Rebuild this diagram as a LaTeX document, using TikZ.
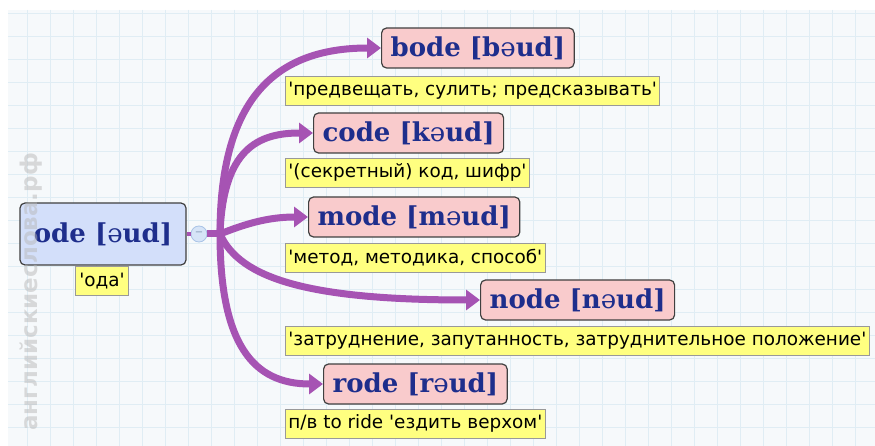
\documentclass[tikz,border=0pt]{standalone}
\usepackage{fontspec}
\setmainfont{DejaVu Sans}
\newfontfamily\wordfont{DejaVu Serif}
\usetikzlibrary{arrows.meta}

\definecolor{linkviolet}{HTML}{A653B3}
\definecolor{wordblue}{HTML}{1E2E8C}
\definecolor{rootfill}{HTML}{D3DFFA}
\definecolor{wordfill}{HTML}{F9CBCC}
\definecolor{notefill}{HTML}{FFFF80}
\definecolor{gridblue}{HTML}{E0EDF4}
\definecolor{paper}{HTML}{F6F9FB}
\definecolor{hubfill}{HTML}{D6E4F7}
\definecolor{hubedge}{HTML}{A9C3E6}

\newcommand{\sw}{{\mdseries ə}}
\newcommand{\tq}{\textquotesingle}

\begin{document}
\begin{tikzpicture}[x=1pt, y=-1pt,
  wordbox/.style={draw=black!75, line width=1.2pt, rounded corners=5pt, fill=wordfill,
    text=wordblue, font=\wordfont\bfseries\fontsize{26}{26}\selectfont,
    minimum height=40pt, inner xsep=9pt, anchor=west},
  rootbox/.style={wordbox, fill=rootfill, minimum width=166pt, minimum height=62pt, anchor=center},
  note/.style={draw=black!40, line width=0.8pt, fill=notefill,
    font=\fontsize{18.4}{18.4}\selectfont, minimum height=29pt, inner xsep=3pt, anchor=north west},
  link/.style={-{Triangle[length=14pt,width=20pt]}, line width=7pt, linkviolet}]
\useasboundingbox (0,0) rectangle (875,446);

% background and grid
\fill[white] (0,0) rectangle (875,446);
\fill[paper] (8,10) rectangle (875,446);
\foreach \gx in {27,50,...,875} \draw[gridblue, line width=0.8pt] (\gx,10) -- (\gx,446);
\foreach \gy in {13,36,...,446} \draw[gridblue, line width=0.8pt] (8,\gy) -- (875,\gy);

% root word
\node[rootbox, inner xsep=4pt] (root) at (103,234) {ode [\sw ud]};
\node[note, inner xsep=4pt] (rootnote) at (75,266) {\tq ода\tq};
\node[circle, draw=hubedge, fill=hubfill, line width=0.8pt, minimum size=16pt, inner sep=0pt,
  text=hubedge!80!black, font=\fontsize{10}{10}\selectfont] (hub) at (199,234) {−};
\coordinate (jn) at (220,234);

% related words
\node[wordbox] (bode) at (381,48) {bode [b\sw ud]};
\node[wordbox] (code) at (313,133) {code [k\sw ud]};
\node[wordbox] (mode) at (308,217) {mode [m\sw ud]};
\node[wordbox] (node) at (480,300) {node [n\sw ud]};
\node[wordbox] (rode) at (323,384) {rode [r\sw ud]};

\node[note] (bodenote) at (285,76) {\tq предвещать, сулить; предсказывать\tq};
\node[note] (codenote) at (285,158) {\tq(секретный) код, шифр\tq};
\node[note] (modenote) at (285,243) {\tq метод, методика, способ\tq};
\node[note] (nodenote) at (285,326) {\tq затруднение, запутанность, затруднительное положение\tq};
\node[note] (rodenote) at (285,409) {п/в to ride \tq ездить верхом\tq};

% connectors
\draw[linkviolet, line width=4pt] (root) -- (hub);
\draw[linkviolet, line width=7pt] (hub) -- (jn);
\draw[link] (jn) .. controls +(0,-130) and +(-110,0) .. (bode.west);
\draw[link] (jn) .. controls +(3,-85) and +(-55,0) .. (code.west);
\draw[link] (jn) .. controls +(25,-10) and +(-40,0) .. (mode.west);
\draw[link] (jn) .. controls +(20,45) and +(-170,0) .. (node.west);
\draw[link] (jn) .. controls +(0,110) and +(-70,0) .. (rode.west);

% watermark
\node[rotate=90, text=gray!55, opacity=0.5, font=\bfseries\fontsize{23}{23}\selectfont] (mark) at (31,292) {английскиеслова.рф};
\end{tikzpicture}
\end{document}
